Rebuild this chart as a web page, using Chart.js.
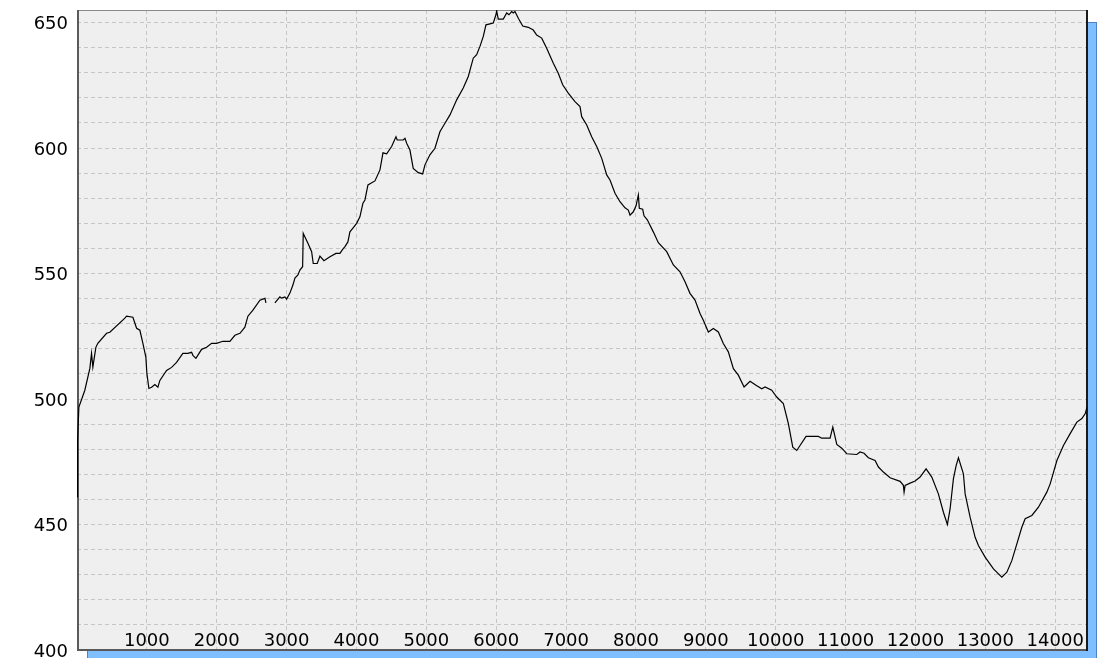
<!DOCTYPE html>
<html>
<head>
<meta charset="utf-8">
<script src="https://cdn.jsdelivr.net/npm/chart.js@4/dist/chart.umd.min.js"></script>
<style>
html,body{margin:0;padding:0;background:#ffffff;}
canvas{display:block;}
</style>
</head>
<body>
<canvas id="c" width="1106" height="658"></canvas>
<script>
// Distance along the profile (x axis)
const distance = [
  0, 8, 27, 112, 184, 208, 227, 270, 298, 423,
  470, 685, 709, 800, 853, 900, 943, 986, 1000, 1029,
  1067, 1115, 1158, 1186, 1282, 1354, 1425, 1515, 1587, 1640,
  1659, 1702, 1783, 1855, 1926, 1998, 2088, 2188, 2260, 2332,
  2403, 2446, 2518, 2618, 2690, 2704, 2770, 2832, 2904, 2928,
  2975, 3000, 3047, 3090, 3119, 3162, 3190, 3229, 3238, 3262,
  3305, 3358, 3381, 3438, 3477, 3534, 3620, 3706, 3763, 3802,
  3835, 3877, 3906, 3949, 4002, 4049, 4092, 4121, 4164, 4264,
  4336, 4379, 4432, 4503, 4565, 4583, 4669, 4694, 4718, 4765,
  4812, 4884, 4947, 4980, 5051, 5123, 5194, 5266, 5338, 5434,
  5528, 5600, 5671, 5720, 5767, 5815, 5853, 5910, 5958, 5996,
  6006, 6029, 6101, 6150, 6182, 6221, 6244, 6268, 6316, 6379,
  6459, 6530, 6579, 6651, 6722, 6817, 6888, 6951, 7031, 7127,
  7199, 7223, 7295, 7366, 7438, 7510, 7581, 7628, 7700, 7771,
  7843, 7890, 7915, 7962, 8001, 8034, 8048, 8096, 8115, 8162,
  8248, 8320, 8440, 8535, 8630, 8702, 8773, 8845, 8917, 8964,
  9036, 9107, 9179, 9250, 9322, 9394, 9465, 9547, 9633, 9718,
  9800, 9847, 9943, 10015, 10109, 10181, 10244, 10301, 10434, 10610,
  10659, 10778, 10817, 10874, 10945, 11017, 11160, 11207, 11264, 11326,
  11422, 11470, 11541, 11637, 11780, 11827, 11837, 11852, 11923, 11995,
  12066, 12152, 12234, 12328, 12400, 12457, 12496, 12543, 12582, 12615,
  12686, 12711, 12782, 12854, 12901, 12997, 13116, 13236, 13308, 13379,
  13451, 13522, 13570, 13666, 13760, 13880, 13928, 14024, 14118, 14214,
  14310, 14382, 14430, 14455
];

// Elevation values (y axis); null = gap in the record
const elevation = [
  461, 483.5, 496.8, 503.5, 512.2, 518.2, 512.7, 520.6, 522.2, 526.2,
  526.6, 532.2, 533.0, 532.6, 528.2, 527.4, 522.2, 516.6, 510.2, 504.2,
  504.7, 505.8, 504.7, 507.4, 511.4, 512.6, 514.6, 518.2, 518.2, 518.6,
  517.4, 516.2, 519.8, 520.6, 522.2, 522.2, 523.0, 523.0, 525.4, 526.2,
  528.6, 533.0, 535.4, 539.4, 540.1, 538.3, null, 538.3, 540.7, 540.2,
  540.7, 539.8, 542.2, 545.4, 548.2, 549.4, 551.4, 552.7, 566.0, 564.6,
  562.1, 558.7, 554.0, 554.0, 556.9, 555.1, 556.7, 558.0, 558.0, 559.6,
  560.7, 562.6, 566.6, 568.1, 570.0, 572.6, 578.0, 579.3, 585.3, 586.9,
  591.3, 598.1, 597.7, 600.6, 604.5, 603.2, 603.2, 603.9, 601.9, 599.2,
  591.9, 590.2, 589.7, 593.3, 597.3, 599.9, 606.5, 609.9, 613.2, 619.2,
  623.9, 628.5, 635.8, 637.2, 640.5, 644.5, 649.1, 649.5, 649.8, 653.1,
  654.7, 651.4, 651.4, 653.8, 653.1, 654.4, 653.8, 654.4, 651.7, 648.6,
  648.1, 647.0, 645.0, 643.8, 639.8, 633.8, 629.8, 625.2, 621.9, 618.5,
  616.5, 612.5, 609.2, 604.5, 600.6, 595.9, 589.3, 587.3, 582.0, 578.6,
  576.2, 575.3, 573.3, 574.6, 577.0, 581.3, 576.0, 575.6, 573.0, 571.4,
  566.6, 562.3, 558.7, 553.4, 550.7, 546.7, 542.1, 539.4, 534.1, 531.4,
  526.7, 528.1, 526.7, 522.1, 518.8, 512.1, 509.5, 504.8, 507.1, 505.5,
  504.1, 504.8, 503.5, 500.8, 498.2, 490.2, 480.8, 479.5, 485.1, 485.1,
  484.4, 484.4, 488.8, 481.9, 480.4, 478.2, 477.9, 478.9, 478.4, 476.6,
  475.5, 472.9, 470.9, 468.6, 467.2, 465.6, 462.9, 465.6, 466.5, 467.3,
  468.9, 472.2, 468.9, 462.2, 454.9, 450.0, 456.3, 468.2, 473.5, 476.6,
  470.2, 462.2, 452.9, 444.9, 441.6, 437.0, 432.3, 429.0, 431.0, 435.6,
  442.3, 448.9, 452.3, 453.6, 456.9, 462.9, 466.2, 475.5, 481.5, 486.2,
  490.8, 492.2, 494.2, 496.8
];

// Axis ranges and tick values
const xRange = [0, 14455];
const xTicks = [0, 1000, 2000, 3000, 4000, 5000, 6000, 7000, 8000, 9000, 10000, 11000, 12000, 13000, 14000];
const yRange = [400, 655];
const yTicks = [400, 410, 420, 430, 440, 450, 460, 470, 480, 490, 500, 510, 520, 530, 540, 550,
                560, 570, 580, 590, 600, 610, 620, 630, 640, 650];
const yLabels = [400, 450, 500, 550, 600, 650];

const points = distance.map((d, i) => ({ x: d, y: elevation[i] }));

const framePlugin = {
  id: 'frame',
  beforeDraw(chart) {
    const { ctx, chartArea: a } = chart;
    const w = a.right - a.left, h = a.bottom - a.top;
    ctx.save();
    ctx.fillStyle = '#80bfff';
    ctx.fillRect(a.left + 10, a.top + 12, w, h);
    ctx.strokeStyle = '#4f82c4';
    ctx.lineWidth = 1;
    ctx.strokeRect(a.left + 10.5, a.top + 12.5, w - 1, h - 1);
    ctx.fillStyle = '#efefef';
    ctx.fillRect(a.left, a.top, w, h);
    ctx.restore();
  },
  beforeDatasetsDraw(chart) {
    const { ctx, chartArea: a } = chart;
    ctx.save();
    ctx.lineWidth = 1;
    ctx.strokeStyle = '#8a8a8a';
    ctx.beginPath(); ctx.moveTo(a.left, a.top + 0.5); ctx.lineTo(a.right, a.top + 0.5); ctx.stroke();
    ctx.lineWidth = 2;
    ctx.strokeStyle = '#5a5a5a';
    ctx.beginPath(); ctx.moveTo(a.left + 1, a.top); ctx.lineTo(a.left + 1, a.bottom); ctx.stroke();
    ctx.beginPath(); ctx.moveTo(a.left, a.bottom); ctx.lineTo(a.right, a.bottom); ctx.stroke();
    ctx.strokeStyle = '#1a1a1a';
    ctx.beginPath(); ctx.moveTo(a.right, a.top); ctx.lineTo(a.right, a.bottom + 1); ctx.stroke();
    ctx.restore();
  }
};

new Chart(document.getElementById('c'), {
  type: 'line',
  data: {
    datasets: [{
      data: points,
      borderColor: '#000000',
      borderWidth: 1.2,
      pointRadius: 0,
      tension: 0,
      spanGaps: false,
      fill: false
    }]
  },
  options: {
    responsive: false,
    animation: false,
    devicePixelRatio: 1,
    layout: { padding: { top: 10, right: 19, left: 0, bottom: 0 } },
    plugins: { legend: { display: false }, tooltip: { enabled: false } },
    scales: {
      x: {
        type: 'linear',
        position: 'bottom',
        min: xRange[0],
        max: xRange[1],
        grid: { color: '#c6c6c6', lineWidth: 1, drawTicks: false },
        border: { display: false, dash: [4, 3] },
        afterBuildTicks: s => { s.ticks = xTicks.map(v => ({ value: v })); },
        ticks: {
          autoSkip: false,
          maxRotation: 0,
          mirror: true,
          padding: 0,
          color: '#000000',
          font: { family: 'DejaVu Sans', size: 18, lineHeight: 1 },
          callback: v => (v === 0 ? '' : String(v))
        },
        afterFit: s => { s.height = 8; s.paddingLeft = 0; s.paddingRight = 0; }
      },
      y: {
        type: 'linear',
        position: 'left',
        min: yRange[0],
        max: yRange[1],
        grid: { color: '#c6c6c6', lineWidth: 1, drawTicks: false },
        border: { display: false, dash: [4, 3] },
        afterBuildTicks: s => { s.ticks = yTicks.map(v => ({ value: v })); },
        ticks: {
          autoSkip: false,
          padding: 9,
          labelOffset: 2,
          color: '#000000',
          font: { family: 'DejaVu Sans', size: 18, lineHeight: 1 },
          callback: v => (yLabels.includes(v) ? String(v) : '')
        },
        afterFit: s => { s.width = 77; s.paddingTop = 0; s.paddingBottom = 0; }
      }
    }
  },
  plugins: [framePlugin]
});
</script>
</body>
</html>
